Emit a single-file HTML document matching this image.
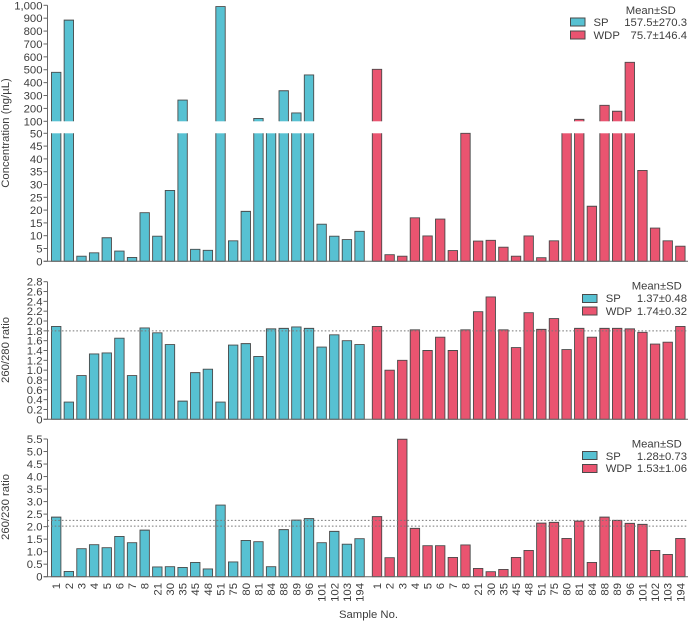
<!DOCTYPE html>
<html>
<head>
<meta charset="utf-8">
<title>Sample concentration and purity ratios</title>
<style>
html,body{margin:0;padding:0;background:#fff;}
svg{display:block;}
text{font-family:"Liberation Sans",sans-serif;font-size:11.3px;fill:#3d3d3d;}
</style>
</head>
<body>
<svg id="chart" width="690" height="621" viewBox="0 0 690 621" xmlns="http://www.w3.org/2000/svg">
  <text transform="translate(9,133) rotate(-90)" text-anchor="middle">Concentration (ng/µL)</text>
  <text transform="translate(9,350) rotate(-90)" text-anchor="middle">260/280 ratio</text>
  <text transform="translate(9,507) rotate(-90)" text-anchor="middle">260/230 ratio</text>
  <text x="368.5" y="618" text-anchor="middle">Sample No.</text>

  <g>
    <text x="625.7" y="14">Mean±SD</text>
    <rect x="570.5" y="18" width="14.5" height="8" fill="#57c1d2" stroke="#4a4a4a"/>
    <text x="593.5" y="26">SP</text>
    <text x="687" y="26" text-anchor="end">157.5±270.3</text>
    <rect x="570.5" y="31" width="14.5" height="8" fill="#ea5470" stroke="#4a4a4a"/>
    <text x="593.5" y="39">WDP</text>
    <text x="687" y="39" text-anchor="end">75.7±146.4</text>
  </g>
  <g>
    <text x="631.7" y="289.7">Mean±SD</text>
    <rect x="582.5" y="294.5" width="14.5" height="8" fill="#57c1d2" stroke="#4a4a4a"/>
    <text x="605.7" y="302">SP</text>
    <text x="687" y="302" text-anchor="end">1.37±0.48</text>
    <rect x="582.5" y="307" width="14.5" height="8" fill="#ea5470" stroke="#4a4a4a"/>
    <text x="605.7" y="315">WDP</text>
    <text x="687" y="315" text-anchor="end">1.74±0.32</text>
  </g>
  <g>
    <text x="631.7" y="447.3">Mean±SD</text>
    <rect x="582.5" y="451.5" width="14.5" height="8" fill="#57c1d2" stroke="#4a4a4a"/>
    <text x="605.7" y="460">SP</text>
    <text x="687" y="460" text-anchor="end">1.28±0.73</text>
    <rect x="582.5" y="464.5" width="14.5" height="8" fill="#ea5470" stroke="#4a4a4a"/>
    <text x="605.7" y="472">WDP</text>
    <text x="687" y="472" text-anchor="end">1.53±1.06</text>
  </g>
</svg>
<script>
const sampleLabels = ["1","2","3","4","5","6","7","8","21","30","35","45","48","51","75","80","81","84","88","89","96","101","102","103","194"];

const spConcentration = [480,885,2,3.3,9.2,4,1.5,19,9.8,27.7,265,4.7,4.3,990,8,19.5,122,90,337,165,460,14.5,9.8,8.5,11.7];
const wdpConcentration = [503,2.6,2,17,9.9,16.5,4.2,50,7.9,8.2,5.5,2,9.9,1.4,8,60,115,21.5,224,178,558,35.5,13,8,5.9];

const spRatio280 = [1.89,0.35,0.89,1.33,1.35,1.65,0.89,1.86,1.76,1.52,0.37,0.95,1.02,0.35,1.51,1.54,1.28,1.84,1.85,1.88,1.85,1.47,1.72,1.6,1.52];
const wdpRatio280 = [1.89,1.0,1.2,1.82,1.4,1.67,1.4,1.82,2.19,2.49,1.82,1.46,2.17,1.83,2.05,1.42,1.85,1.67,1.85,1.85,1.84,1.77,1.53,1.57,1.89];

const spRatio230 = [2.38,0.21,1.12,1.28,1.16,1.61,1.36,1.86,0.39,0.4,0.37,0.57,0.31,2.86,0.59,1.45,1.4,0.4,1.88,2.26,2.32,1.36,1.81,1.3,1.52];
const wdpRatio230 = [2.4,0.76,5.49,1.93,1.24,1.24,0.77,1.27,0.33,0.2,0.29,0.77,1.05,2.14,2.17,1.53,2.22,0.57,2.38,2.25,2.13,2.09,1.05,0.89,1.53];

const concentrationLowerTicks = [0,5,10,15,20,25,30,35,40,45,50];
const concentrationUpperTicks = [100,200,300,400,500,600,700,800,900,1000];
const ratio280Ticks = [0,0.2,0.4,0.6,0.8,1.0,1.2,1.4,1.6,1.8,2.0,2.2,2.4,2.6,2.8];
const ratio230Ticks = [0,0.5,1.0,1.5,2.0,2.5,3.0,3.5,4.0,4.5,5.0,5.5];
const ratio280Guides = [1.8];
const ratio230Guides = [2.02,2.25];

const NS = 'http://www.w3.org/2000/svg';
const svg = document.getElementById('chart');
const AXIS_X = 47.5, AXIS_END = 688, BAR_W = 9.4, STEP = 12.64;
const SP_START = 56.2, WDP_START = 377;
const TEAL = '#57c1d2', RED = '#ea5470', EDGE = '#4a4a4a', AXIS = '#666';

function make(tag, attrs) {
  const el = document.createElementNS(NS, tag);
  for (const k in attrs) el.setAttribute(k, attrs[k]);
  svg.appendChild(el);
  return el;
}
function xSp(i) { return SP_START + i * STEP; }
function xWdp(i) { return WDP_START + i * STEP; }

// Broken concentration axis
const LOW_BASE = 261.3, LOW_TOP = 133.3, UP_BASE = 121.3, UP_TOP = 5.3;
function yLower(v) { return LOW_BASE - (Math.min(v, 50) / 50) * (LOW_BASE - LOW_TOP); }
function yUpper(v) { return UP_BASE - ((v - 100) / 900) * (UP_BASE - UP_TOP); }

// Ratio axes
function yRatio280(v) { return 419.3 - (v / 2.8) * 137.6; }
function yRatio230(v) { return 576.7 - (v / 5.5) * 137.7; }

function fmtTick(v, decimals) {
  if (v === 0) return '0';
  if (decimals) return v.toFixed(decimals);
  return v >= 1000 ? v.toLocaleString('en-US') : String(v);
}

function drawYTick(y, label) {
  const t = make('line', {x1: AXIS_X - 4, x2: AXIS_X, y1: y, y2: y, stroke: AXIS, 'stroke-width': 1});
  
  
  const l = make('text', {x: AXIS_X - 5, y: y + 4, 'text-anchor': 'end'});
  
  
  l.textContent = label;
}

function drawAxes(top, base) {
  const y = make('line', {x1: AXIS_X, x2: AXIS_X, y1: top, y2: base, stroke: AXIS, 'stroke-width': 1});
  
  
  const x = make('line', {x1: AXIS_X - 4, x2: AXIS_END, y1: base, y2: base, stroke: AXIS, 'stroke-width': 1});
  
  
}

// A bar is a fill plus an outline; the outline stays open on the side cut by the axis break.
function drawBar(cx, top, bottom, color, openTop, openBottom) {
  const h = Math.max(bottom - top, 0.5);
  const l = cx - BAR_W / 2, r = cx + BAR_W / 2, b = top + h;
  const fill = make('rect', {x: l, y: top, width: BAR_W, height: h, fill: color});
  
  
  const d = openTop
    ? 'M' + l + ' ' + top + 'V' + b + 'H' + r + 'V' + top
    : 'M' + l + ' ' + b + 'V' + top + 'H' + r + 'V' + b + (openBottom ? '' : 'Z');
  const edge = make('path', {d: d, fill: 'none', stroke: EDGE, 'stroke-width': 0.9});
  
  
}

function drawGuide(y) {
  const g = make('line', {x1: AXIS_X, x2: AXIS_END, y1: y, y2: y, stroke: '#777', 'stroke-width': 1, 'stroke-dasharray': '1.6 2'});
  
  
}

// Concentration panel
function drawConcentrationBars(values, xFn, color) {
  values.forEach(function (v, i) {
    drawBar(xFn(i), yLower(v), LOW_BASE, color, v > 50, false);
    if (v > 100) drawBar(xFn(i), yUpper(v), UP_BASE, color, false, true);
  });
}
drawConcentrationBars(spConcentration, xSp, TEAL);
drawConcentrationBars(wdpConcentration, xWdp, RED);
drawAxes(UP_TOP, LOW_BASE);
concentrationLowerTicks.forEach(function (v) { drawYTick(yLower(v), fmtTick(v)); });
concentrationUpperTicks.forEach(function (v) { drawYTick(yUpper(v), fmtTick(v)); });

// 260/280 panel
spRatio280.forEach(function (v, i) { drawBar(xSp(i), yRatio280(v), yRatio280(0), TEAL, false, false); });
wdpRatio280.forEach(function (v, i) { drawBar(xWdp(i), yRatio280(v), yRatio280(0), RED, false, false); });
ratio280Guides.forEach(function (v) { drawGuide(yRatio280(v)); });
drawAxes(yRatio280(2.8), yRatio280(0));
ratio280Ticks.forEach(function (v) { drawYTick(yRatio280(v), fmtTick(v, 1)); });

// 260/230 panel
spRatio230.forEach(function (v, i) { drawBar(xSp(i), yRatio230(v), yRatio230(0), TEAL, false, false); });
wdpRatio230.forEach(function (v, i) { drawBar(xWdp(i), yRatio230(v), yRatio230(0), RED, false, false); });
ratio230Guides.forEach(function (v) { drawGuide(yRatio230(v)); });
drawAxes(yRatio230(5.5), yRatio230(0));
ratio230Ticks.forEach(function (v) { drawYTick(yRatio230(v), fmtTick(v, 1)); });

// Category labels
function drawCategoryLabels(xFn) {
  sampleLabels.forEach(function (label, i) {
    const cx = xFn(i) + 4;
    const t = make('text', {transform: 'translate(' + cx + ',583) rotate(-90)', 'text-anchor': 'end'});
    
    
    t.textContent = label;
  });
}
drawCategoryLabels(xSp);
drawCategoryLabels(xWdp);
</script>
</body>
</html>
